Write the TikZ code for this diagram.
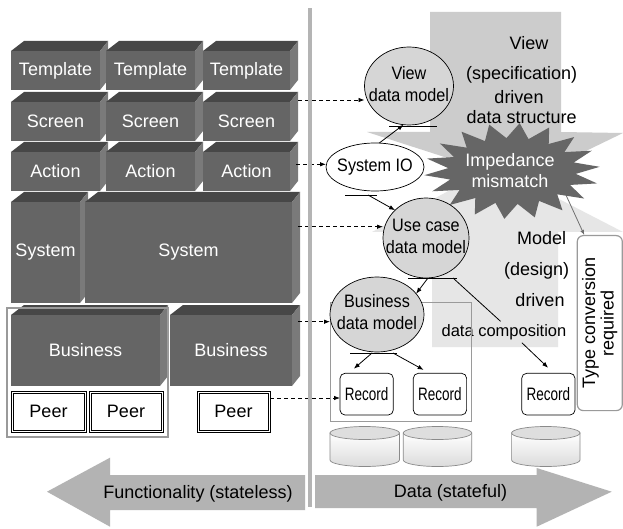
\documentclass[tikz,border=0pt]{standalone}
\usepackage{fontspec}
\setmainfont{Liberation Sans}
\usetikzlibrary{arrows.meta,shapes.geometric}

\definecolor{frontgray}{HTML}{656565}
\definecolor{topgray}{HTML}{474747}
\definecolor{sidegray}{HTML}{7A7A7A}
\definecolor{viewgray}{HTML}{CCCCCC}
\definecolor{modelgray}{HTML}{E6E6E6}
\definecolor{ellgray}{HTML}{D6D6D6}
\definecolor{bargray}{HTML}{B4B4B4}
\definecolor{arrowgray}{HTML}{B3B3B3}
\definecolor{burstgray}{HTML}{666666}
\definecolor{framegray}{HTML}{9A9A9A}
\definecolor{drumedge}{HTML}{8A8A8A}
\definecolor{drumtop}{HTML}{DEDEDE}
\definecolor{linkgray}{HTML}{707070}

\newcommand\fsA{\fontsize{18pt}{21pt}\selectfont}
\newcommand\fsB{\fontsize{18pt}{22pt}\selectfont}
\newcommand\fsR{\fontsize{18pt}{20pt}\selectfont}
\newcommand\fsD{\fontsize{16.5pt}{19pt}\selectfont}
\newcommand\fsT{\fontsize{18pt}{18.5pt}\selectfont}

% narrow two-line caption for the data models
\newcommand\squeeze[1]{\scalebox{0.9}[1]{\begin{tabular}{@{}c@{}}#1\end{tabular}}}

% a 3-D block: name, x1, y1, x2, y2 of the front face, label
\newcommand\blockbox[6]{%
  \fill[topgray] (#2,#3) -- (#2+13,#3-10) -- (#4+8,#3-10) -- (#4,#3) -- cycle;
  \fill[sidegray] (#4,#3) -- (#4+8,#3-10) -- (#4+8,#5-10) -- (#4,#5) -- cycle;
  \node[boxfront, minimum width=#4-#2, minimum height=#5-#3, anchor=north west] (#1) at (#2,#3) {#6};
}

% a peer box with a double border: name, x, y, width
\newcommand\peer[4]{%
  \node[peerbox, minimum width=#4, minimum height=41] (#1) at (#2,#3) {Peer};
  \draw[line width=0.6pt] ([xshift=2pt,yshift=-2pt]#1.north west) rectangle ([xshift=-2pt,yshift=2pt]#1.south east);
}

% a storage drum: centre x, half width
\newcommand\drum[2]{%
  \shadedraw[top color=white, bottom color=gray!28, draw=drumedge, line width=0.7pt]
    (#1-#2,433) -- (#1-#2,460) arc[start angle=180, end angle=360, x radius=#2pt, y radius=6.5pt] -- (#1+#2,433) -- cycle;
  \filldraw[fill=drumtop, draw=drumedge, line width=0.7pt] (#1,433) ellipse[x radius=#2pt, y radius=6.5pt];
}

\begin{document}
\begin{tikzpicture}[x=1pt, y=-1pt,
  boxfront/.style={fill=frontgray, text=white, inner sep=0pt, outer sep=0pt, font=\fsA},
  peerbox/.style={draw=black, line width=0.6pt, fill=white,
    inner sep=0pt, outer sep=0pt, font=\fsA, anchor=north west},
  datamodel/.style={ellipse, draw=black, line width=0.7pt, fill=ellgray, inner sep=0pt, outer sep=0pt},
  dmtext/.style={font=\fsB, inner sep=0pt},
  recbox/.style={draw=black, line width=0.7pt, rounded corners=5pt, fill=white, inner sep=0pt,
    outer sep=0pt, font=\fsR, anchor=north west},
  linkarrow/.style={line width=0.8pt, -{Latex[length=6pt,width=4.5pt]}},
  dashlink/.style={linkarrow, dash pattern=on 4pt off 3pt},
  bigtext/.style={font=\fsA, inner sep=0pt, anchor=base},
  frameline/.style={draw=framegray, line width=1.5pt},
]
\fill[white] (0,0) rectangle (623,529);
\useasboundingbox (0,0) rectangle (623,529);

% ---------- functionality side: stacked blocks ----------
\blockbox{t1}{11}{51}{100}{90}{Template}
\blockbox{t2}{106}{51}{195}{90}{Template}
\blockbox{t3}{203}{51}{290}{90}{Template}
\blockbox{sc1}{11}{102}{100}{141}{Screen}
\blockbox{sc2}{106}{102}{195}{141}{Screen}
\blockbox{sc3}{203}{102}{290}{141}{Screen}
\blockbox{ac1}{11}{152}{100}{191}{Action}
\blockbox{ac2}{106}{152}{195}{191}{Action}
\blockbox{ac3}{203}{152}{290}{191}{Action}
\blockbox{sy1}{11}{202}{80}{303}{System}
\blockbox{sy2}{85}{202}{292}{303}{System}
\blockbox{bu1}{11}{315}{160}{386}{Business}
\blockbox{bu2}{170}{315}{292}{386}{Business}

\peer{p1}{11}{391}{75}
\peer{p2}{89}{391}{74}
\peer{p3}{197}{391}{73}

\draw[frameline] (7,308) rectangle (168,437);

% ---------- data side: background shapes ----------
\fill[viewgray] (430,12) -- (561,12) -- (561,132) -- (623,133) -- (522,182) -- (367,132) -- (430,132) -- cycle;
\fill[modelgray] (432,347) -- (558,347) -- (558,232) -- (623,232) -- (495,166) -- (372,232) -- (432,232) -- cycle;

% type conversion box and its pointer
\node[draw=framegray, line width=1.2pt, rounded corners=6pt, fill=white, minimum width=45,
  minimum height=175, inner sep=0pt, anchor=north west] (tc) at (576.7,235) {};
\node[rotate=90, align=center, font=\fsT, inner sep=0pt] (tctext) at (tc.center) {Type conversion\\required};

\node[ellipse, minimum width=150, minimum height=72, inner sep=0pt] (imp) at (512,171) {};
\draw[line width=0.8pt, draw=linkgray, -{Latex[length=5pt,width=4pt]}] ([xshift=43pt]imp.center) -- (tc.100);

% impedance mismatch burst
\fill[burstgray] ({512+88*cos(5)},{171-48*sin(5)})
  \foreach \k in {1,...,35} {
    -- ({512+ifthenelse(mod(\k,2)==0,88,64)*cos(5+\k*10)},{171-ifthenelse(mod(\k,2)==0,48,33)*sin(5+\k*10)})
  } -- cycle;
\node[align=center, text=white, font=\fsA, inner sep=0pt] (imptext) at (510,171) {Impedance\\mismatch};

% view driven labels
\node[bigtext] (v1) at (529,50) {View};
\node[bigtext] (v2) at (521.7,80) {(specification)};
\node[bigtext] (v3) at (519,103.3) {driven};
\node[bigtext] (v4) at (521.7,124) {data structure};

% model driven labels
\node[bigtext] (m1) at (541.7,244.5) {Model};
\node[bigtext] (m2) at (536.7,275) {(design)};
\node[bigtext] (m3) at (540,306) {driven};
\node[font=\fsD, inner sep=0pt, text height=12pt, text depth=4pt, minimum height=21pt] (dc) at (504,332) {data composition};

% frame round the business data
\draw[frameline] (330.5,302.7) rectangle (471.7,421.7);

% storage drums
\drum{364.7}{34.7}
\drum{437.5}{34.2}
\drum{545.8}{34.2}

% records
\node[recbox, minimum width=53.3, minimum height=41.7] (r1) at (340,373.3) {\scalebox{0.75}[1]{Record}};
\node[recbox, minimum width=53.3, minimum height=41.7] (r2) at (413.3,373.3) {\scalebox{0.75}[1]{Record}};
\node[recbox, minimum width=53.3, minimum height=41.7] (r3) at (521.7,373.3) {\scalebox{0.75}[1]{Record}};

% data models
\node[datamodel, minimum width=89, minimum height=78, label={[dmtext]center:{\squeeze{View\\data model}}}] (view) at (409,86) {};
\node[datamodel, fill=white, minimum width=98, minimum height=48, label={[dmtext]center:{\squeeze{System IO}}}] (sio) at (375,167) {};
\node[datamodel, minimum width=86, minimum height=80, label={[dmtext]center:{\squeeze{Use case\\data model}}}] (uc) at (426,238) {};
\node[datamodel, minimum width=94, minimum height=75, label={[dmtext]center:{\squeeze{Business\\data model}}}] (bdm) at (377,314.5) {};

% bars under the data models
\draw[line width=0.8pt] ([xshift=-20pt,yshift=-1pt]view.south) -- ([xshift=28pt,yshift=-1pt]view.south);
\draw[line width=0.8pt] ([xshift=-30pt,yshift=-4pt]sio.south) -- ([xshift=2pt,yshift=-4pt]sio.south);
\draw[line width=0.8pt] ([xshift=-18pt,yshift=-0.5pt]uc.south) -- ([xshift=31pt,yshift=-0.5pt]uc.south);
\draw[line width=0.8pt] ([xshift=-27pt,yshift=-1pt]bdm.south) -- ([xshift=20pt,yshift=-1pt]bdm.south);

% links between data models and records
\draw[linkarrow] (sio.80) -- (view.262);
\draw[linkarrow] ([xshift=-7pt,yshift=-4pt]sio.south) -- (uc.138);
\draw[linkarrow] ([xshift=2pt]uc.south) -- (bdm.28);
\draw[line width=0.8pt] ([xshift=27pt]uc.south) -- (dc.108);
\draw[linkarrow, shorten >=8pt] (dc.-31) -- (r3.75);
\draw[linkarrow, shorten >=7pt] ([xshift=-5pt,yshift=-1pt]bdm.south) -- (r1.131);
\draw[linkarrow, shorten >=7pt] ([xshift=16pt,yshift=-1pt]bdm.south) -- (r2.116);

% dashed links across the divide
\coordinate (d1) at (298,100);
\coordinate (d2) at (296,164.3);
\coordinate (d3) at (298,226.7);
\coordinate (d4) at (298,321.7);
\coordinate (pd) at ([yshift=13.5pt]p3.east);
\draw[dashlink] (d1) -- (d1 -| view.west);
\draw[dashlink] (d2) -- (d2 -| sio.west);
\draw[dashlink] (d3) -- (d3 -| uc.west);
\draw[dashlink] (d4) -- (d4 -| bdm.west);
\draw[dashlink] (pd) -- (pd -| r1.west);

% divider
\fill[bargray] (308,8) rectangle (312,507);

% direction arrows
\fill[arrowgray] (305,475) -- (110,475) -- (110,457.7) -- (47,491.7) -- (110,526.7) -- (110,510) -- (305,510) -- cycle;
\fill[arrowgray] (315,475) -- (536.7,475) -- (536.7,468) -- (611.7,491.7) -- (536.7,526.7) -- (536.7,508) -- (315,508) -- cycle;
\node[font=\fsA, inner sep=0pt] (func) at (198,494) {Functionality (stateless)};
\node[font=\fsA, inner sep=0pt] (data) at (450.5,493) {Data (stateful)};
\end{tikzpicture}
\end{document}
